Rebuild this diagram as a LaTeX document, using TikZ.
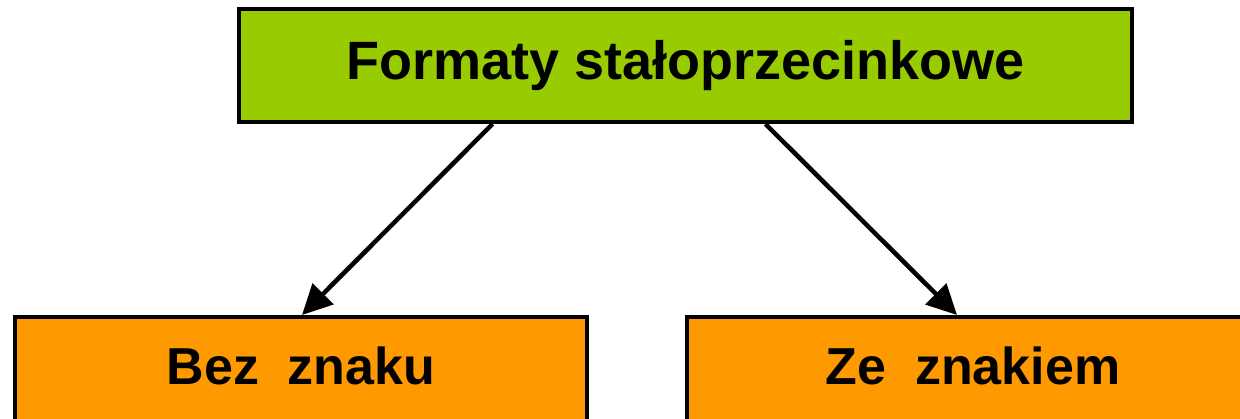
\documentclass[tikz,border=0pt]{standalone}
\usepackage{fontspec}
\setmainfont{Liberation Sans}
\usetikzlibrary{arrows.meta, positioning}

\definecolor{headgreen}{HTML}{99CC00}
\definecolor{kindorange}{HTML}{FF9900}

\begin{document}
\begin{tikzpicture}[
    x=1pt, y=1pt,
    >={Triangle[length=30pt, width=29pt]},
    box/.style={draw, line width=4pt, rectangle, inner sep=0pt, align=center,
        font=\fontsize{54}{64}\selectfont\bfseries},
    head/.style={box, minimum width=893pt, minimum height=113pt, fill=headgreen},
    kind/.style={box, minimum width=572pt, minimum height=113pt, text depth=16pt,
        font=\fontsize{52}{62}\selectfont\bfseries, fill=kindorange},
    arrow/.style={->, line width=4.5pt}
]
\useasboundingbox (0,0) rectangle (1240,-419);

% Top node
\node[head] (fixed) at (685.5,-65.5) {Formaty stałoprzecinkowe};

% Two kinds below
\node[kind, below=191pt of fixed, xshift=-384.5pt] (unsigned) {Bez\ \ znaku};
\node[kind, below=191pt of fixed, xshift=287.5pt] (signed) {Ze\ \ znakiem};

\draw[arrow] ([xshift=-193pt]fixed.south) -- ([xshift=1pt]unsigned.north);
\draw[arrow] ([xshift=80pt]fixed.south) -- ([xshift=-16pt]signed.north);

\end{tikzpicture}
\end{document}
